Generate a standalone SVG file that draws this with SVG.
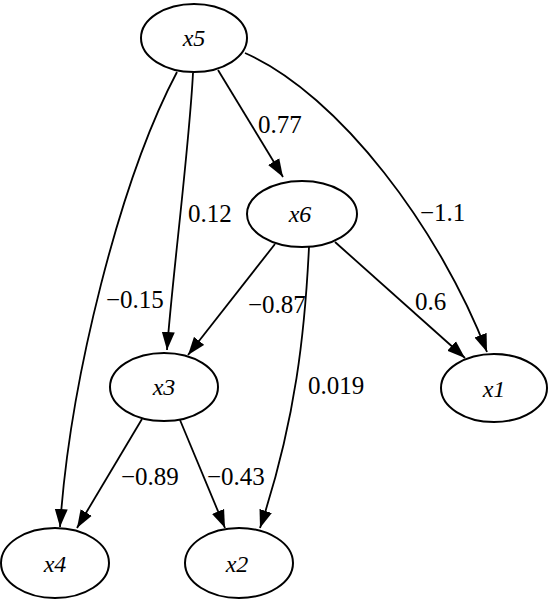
<svg xmlns="http://www.w3.org/2000/svg" width="550" height="601" viewBox="0 0 550 601">
<style>
.node ellipse{fill:#fff;stroke:#000;stroke-width:2}
.edge path{fill:none;stroke:#000;stroke-width:1.8;marker-end:url(#arr)}
</style>
<defs>
<marker id="arr" markerUnits="userSpaceOnUse" markerWidth="20" markerHeight="14" viewBox="0 0 20 14" refX="18" refY="7" orient="auto">
<path d="M0,0.5 L18,7 L0,13.5 z" fill="#000"/>
</marker>
</defs>
<rect width="550" height="601" fill="#fff"/>
<g id="connectors" class="edge">
<path d="M218,70 L283,177"/>
<path d="M193,73 C189,150 172,280 167,350"/>
<path d="M177,72 C120,180 70,380 60,527"/>
<path d="M245,53 C340,95 440,230 487,352"/>
<path d="M275,244 L188,355"/>
<path d="M309,247 C305,330 296,420 260,528"/>
<path d="M335,242 L465,358"/>
<path d="M142,419 L77,528"/>
<path d="M180,420 L225,528"/>
</g>
<g id="labels" font-family="Liberation Serif, Times New Roman, serif" font-size="25" fill="#000">
<text x="258" y="133">0.77</text>
<text x="188" y="222">0.12</text>
<text x="420" y="221">−1.1</text>
<text x="106" y="308">−0.15</text>
<text x="248" y="313">−0.87</text>
<text x="415" y="310">0.6</text>
<text x="308" y="394">0.019</text>
<text x="121" y="485">−0.89</text>
<text x="207" y="485">−0.43</text>
</g>
<g id="nodes" font-family="Liberation Serif, Times New Roman, serif" font-size="24" font-style="italic" text-anchor="middle" fill="#000">
<g id="x5" class="node"><ellipse cx="194" cy="38" rx="53" ry="34"/><text x="194" y="46">x5</text></g>
<g id="x6" class="node"><ellipse cx="302" cy="214" rx="55" ry="33"/><text x="300" y="222">x6</text></g>
<g id="x3" class="node"><ellipse cx="164" cy="387" rx="54" ry="34"/><text x="164" y="395">x3</text></g>
<g id="x1" class="node"><ellipse cx="494" cy="388" rx="53" ry="34"/><text x="494" y="397">x1</text></g>
<g id="x4" class="node"><ellipse cx="55" cy="563" rx="54" ry="35"/><text x="55" y="572">x4</text></g>
<g id="x2" class="node"><ellipse cx="239" cy="563" rx="54" ry="35"/><text x="237" y="572">x2</text></g>
</g>
</svg>
